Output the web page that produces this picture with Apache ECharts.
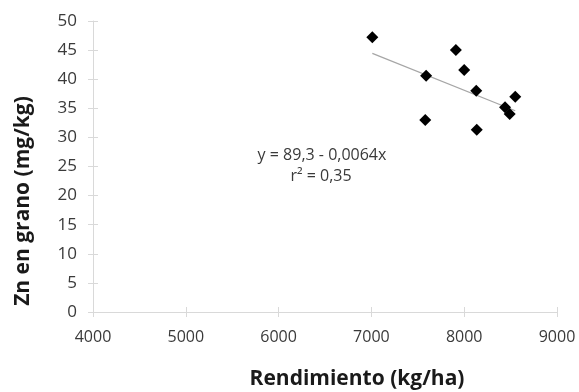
<!DOCTYPE html>
<html>
<head>
<meta charset="utf-8">
<script src="https://cdn.jsdelivr.net/npm/echarts@6/dist/echarts.min.js"></script>
<style>
  html, body { margin: 0; padding: 0; background: #fff; }
  #chart { width: 579px; height: 392px; }
</style>
</head>
<body>
<div id="chart"></div>
<script>
// rendimiento (kg/ha) vs Zn en grano (mg/kg)
var rendimiento = [7010, 7590, 7580, 7910, 8000, 8130, 8135, 8440, 8490, 8550];
var znGrano     = [47.2, 40.6, 33.0, 45.0, 41.6, 38.0, 31.3, 35.2, 34.0, 37.0];
// recta de regresion
var intercepto = 89.3;
var pendiente = -0.0064;
var trendX = [7010, 8550];
var ecuacion = ['y = 89,3 - 0,0064x', 'r\u00b2 = 0,35'];

var puntos = [];
for (var i = 0; i < rendimiento.length; i++) {
	puntos.push([rendimiento[i], znGrano[i]]);
}
var recta = [];
for (var j = 0; j < trendX.length; j++) {
	recta.push([trendX[j], intercepto + pendiente * trendX[j]]);
}

var fuente = 'Open Sans';
var grisEje = '#d9d9d9';

var option = {
	animation: false,
	grid: { left: 93, right: 22, top: 21, bottom: 80 },
	xAxis: [{
		type: 'value',
		min: 4000, max: 9000, interval: 1000,
		axisLine: { show: true, lineStyle: { color: grisEje } },
		axisTick: { show: true, length: 5, lineStyle: { color: grisEje } },
		splitLine: { show: false },
		axisLabel: { color: '#3a3a3a', fontFamily: fuente, fontSize: 16, margin: 17,
			formatter: function (v) { return String(v); } }
	}, {
		type: 'value', position: 'bottom',
		min: 4000, max: 9000, interval: 1000,
		axisLine: { show: false },
		axisTick: { show: true, inside: true, length: 5, lineStyle: { color: grisEje } },
		splitLine: { show: false },
		axisLabel: { show: false }
	}],
	yAxis: [{
		type: 'value',
		min: 0, max: 50, interval: 5,
		axisLine: { show: true, lineStyle: { color: grisEje } },
		axisTick: { show: true, length: 5, lineStyle: { color: grisEje } },
		splitLine: { show: false },
		axisLabel: { color: '#3a3a3a', fontFamily: fuente, fontSize: 17, margin: 16 }
	}, {
		type: 'value', position: 'left',
		min: 0, max: 50, interval: 5,
		axisLine: { show: false },
		axisTick: { show: true, inside: true, length: 5, lineStyle: { color: grisEje } },
		splitLine: { show: false },
		axisLabel: { show: false }
	}],
	series: [{
		type: 'line',
		data: recta,
		symbol: 'none',
		lineStyle: { color: '#a6a6a6', width: 1.2 },
		z: 2
	}, {
		type: 'scatter',
		data: puntos,
		symbol: 'diamond',
		symbolSize: 12,
		itemStyle: { color: '#000', opacity: 1 },
		z: 3
	}],
	graphic: [{
		type: 'text', x: 322, y: 155,
		style: { text: ecuacion[0], font: '16px "Open Sans"', fill: '#3a3a3a', align: 'center', verticalAlign: 'middle' }
	}, {
		type: 'text', x: 321, y: 176,
		style: { text: ecuacion[1], font: '16px "Open Sans"', fill: '#3a3a3a', align: 'center', verticalAlign: 'middle' }
	}, {
		type: 'text',
		x: 23, y: 201,
		rotation: Math.PI / 2,
		style: { text: 'Zn en grano (mg/kg)', font: 'bold 21px "Open Sans"', fill: '#1a1a1a', align: 'center', verticalAlign: 'middle' }
	}, {
		type: 'text',
		x: 357, y: 379,
		style: { text: 'Rendimiento (kg/ha)', font: 'bold 21px "Open Sans"', fill: '#1a1a1a', align: 'center', verticalAlign: 'middle' }
	}]
};

var myChart = echarts.init(document.getElementById('chart'));
myChart.setOption(option);
</script>
</body>
</html>
